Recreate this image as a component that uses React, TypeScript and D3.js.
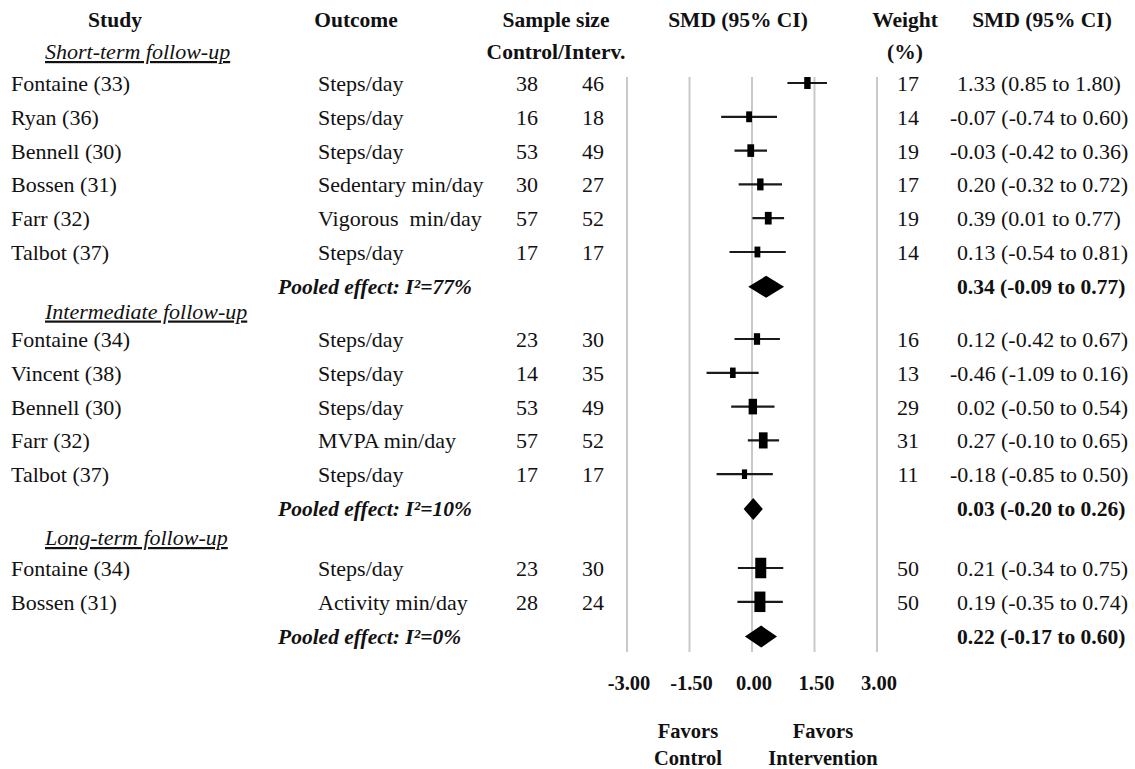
import React from "react";
import * as d3 from "d3";

// Study-level rows
const studies = [
  "Fontaine (33)", "Ryan (36)", "Bennell (30)", "Bossen (31)", "Farr (32)", "Talbot (37)",
  "Fontaine (34)", "Vincent (38)", "Bennell (30)", "Farr (32)", "Talbot (37)",
  "Fontaine (34)", "Bossen (31)",
];
const studySection = [0, 0, 0, 0, 0, 0, 1, 1, 1, 1, 1, 2, 2];
const outcomes = [
  "Steps/day", "Steps/day", "Steps/day", "Sedentary min/day", "Vigorous\u00a0 min/day", "Steps/day",
  "Steps/day", "Steps/day", "Steps/day", "MVPA min/day", "Steps/day",
  "Steps/day", "Activity min/day",
];
const nControl = [38, 16, 53, 30, 57, 17, 23, 14, 53, 57, 17, 23, 28];
const nInterv = [46, 18, 49, 27, 52, 17, 30, 35, 49, 52, 17, 30, 24];
const smd = [1.33, -0.07, -0.03, 0.2, 0.39, 0.13, 0.12, -0.46, 0.02, 0.27, -0.18, 0.21, 0.19];
const ciLower = [0.85, -0.74, -0.42, -0.32, 0.01, -0.54, -0.42, -1.09, -0.5, -0.1, -0.85, -0.34, -0.35];
const ciUpper = [1.8, 0.6, 0.36, 0.72, 0.77, 0.81, 0.67, 0.16, 0.54, 0.65, 0.5, 0.75, 0.74];
const weights = [17, 14, 19, 17, 19, 14, 16, 13, 29, 31, 11, 50, 50];

// Pooled estimates per follow-up period
const sections = ["Short-term follow-up", "Intermediate follow-up", "Long-term follow-up"];
const pooledI2 = ["77%", "10%", "0%"];
const pooledSmd = [0.34, 0.03, 0.22];
const pooledLower = [-0.09, -0.2, -0.17];
const pooledUpper = [0.77, 0.26, 0.6];

// Axis
const tickValues = [-3, -1.5, 0, 1.5, 3];
const tickLabels = ["-3.00", "-1.50", "0.00", "1.50", "3.00"];

const W = 1135;
const H = 769;
const FONT = "'Liberation Serif', 'Times New Roman', serif";
const ROW = 33.8;
const sectionHeaderY = [52, 311.5, 538];
const sectionFirstRowY = [84, 340, 569];
const BASE = 7; // baseline offset from row centre
const INK = "#111";
const BODY = 22;
const HEAD = 21.5;

const fmt = (v: number) => v.toFixed(2);

export default function App() {
  const x = d3.scaleLinear().domain([-3, 3]).range([627, 877]);

  // vertical layout: study rows inside each section, then the pooled row
  const rows = studies.map((name, i) => {
    const s = studySection[i];
    const idx = studySection.slice(0, i).filter((v) => v === s).length;
    return { i, name, s, y: sectionFirstRowY[s] + idx * ROW };
  });
  const pooledRows = sections.map((label, s) => {
    const n = studySection.filter((v) => v === s).length;
    return { s, label, y: sectionFirstRowY[s] + n * ROW };
  });

  const sizeW = d3.scaleSqrt().domain([0, 50]).range([0, 11]);
  const sizeH = d3.scaleSqrt().domain([0, 50]).range([0, 20.5]);

  const smdText = (v: number, lo: number, hi: number) => `${fmt(v)} (${fmt(lo)} to ${fmt(hi)})`;
  const smdX = (v: number) => (v < 0 ? 950 : 957);

  const gridTop = 77;
  const gridBottom = 652;
  const halfDiamond = 11;

  return (
    <svg
      width={W}
      height={H}
      style={{ position: "absolute", left: 0, top: 0, background: "#fff" }}
      fontFamily={FONT}
    >
      <rect width={W} height={H} fill="#fff" />

      {/* column headers */}
      <g fontWeight="bold" fontSize={HEAD} fill={INK} textAnchor="middle">
        <text x={115} y={27}>Study</text>
        <text x={356} y={27}>Outcome</text>
        <text x={556} y={27}>Sample size</text>
        <text x={556} y={59}>Control/Interv.</text>
        <text x={738} y={27}>SMD (95% CI)</text>
        <text x={905} y={27}>Weight</text>
        <text x={905} y={59}>(%)</text>
        <text x={1042} y={27}>SMD (95% CI)</text>
      </g>

      {/* grid lines */}
      <g>
        {tickValues.map((t) => (
          <line
            key={t}
            x1={x(t)}
            x2={x(t)}
            y1={gridTop}
            y2={gridBottom}
            stroke="#c9c9c9"
            strokeWidth={2}
          />
        ))}
      </g>

      {/* section headings */}
      <g fontStyle="italic" fontSize={BODY} fill={INK}>
        {sections.map((s, k) => (
          <text key={s} x={45} y={sectionHeaderY[k] + BASE} textDecoration="underline">
            {s}
          </text>
        ))}
      </g>

      {/* study rows */}
      <g fontSize={BODY} fill={INK}>
        {rows.map((r) => (
          <g key={r.i}>
            <text x={11} y={r.y + BASE}>{r.name}</text>
            <text x={318} y={r.y + BASE}>{outcomes[r.i]}</text>
            <text x={527} y={r.y + BASE} textAnchor="middle">{nControl[r.i]}</text>
            <text x={593} y={r.y + BASE} textAnchor="middle">{nInterv[r.i]}</text>
            <text x={908} y={r.y + BASE} textAnchor="middle">{weights[r.i]}</text>
            <text x={smdX(smd[r.i])} y={r.y + BASE}>
              {smdText(smd[r.i], ciLower[r.i], ciUpper[r.i])}
            </text>
          </g>
        ))}
      </g>

      {/* study markers */}
      <g>
        {rows.map((r) => {
          const w = sizeW(weights[r.i]);
          const h = sizeH(weights[r.i]);
          const cy = r.y - 1;
          return (
            <g key={r.i}>
              <line
                x1={x(ciLower[r.i])}
                x2={x(ciUpper[r.i])}
                y1={cy}
                y2={cy}
                stroke="#1a1a1a"
                strokeWidth={2.2}
              />
              <rect x={x(smd[r.i]) - w / 2} y={cy - h / 2} width={w} height={h} fill="#000" />
            </g>
          );
        })}
      </g>

      {/* pooled rows */}
      {pooledRows.map((p) => {
        const cy = p.y;
        const path = [
          [x(pooledLower[p.s]), cy],
          [x(pooledSmd[p.s]), cy - halfDiamond],
          [x(pooledUpper[p.s]), cy],
          [x(pooledSmd[p.s]), cy + halfDiamond],
        ];
        return (
          <g key={p.s}>
            <text
              x={278}
              y={cy + BASE}
              fontWeight="bold"
              fontStyle="italic"
              fontSize={BODY - 0.5}
              fill={INK}
            >
              {`Pooled effect: I\u00b2=${pooledI2[p.s]}`}
            </text>
            <path d={(d3.line()(path as [number, number][]) || "") + "Z"} fill="#000" />
            <text
              x={smdX(pooledSmd[p.s])}
              y={cy + BASE}
              fontWeight="bold"
              fontSize={BODY - 0.5}
              fill={INK}
            >
              {smdText(pooledSmd[p.s], pooledLower[p.s], pooledUpper[p.s])}
            </text>
          </g>
        );
      })}

      {/* axis labels */}
      <g fontWeight="bold" fontSize={20.5} fill={INK} textAnchor="middle">
        {tickValues.map((t, k) => (
          <text key={t} x={x(t) + 2} y={690}>{tickLabels[k]}</text>
        ))}
        <text x={688} y={738}>Favors</text>
        <text x={688} y={765}>Control</text>
        <text x={823} y={738}>Favors</text>
        <text x={823} y={765}>Intervention</text>
      </g>
    </svg>
  );
}
